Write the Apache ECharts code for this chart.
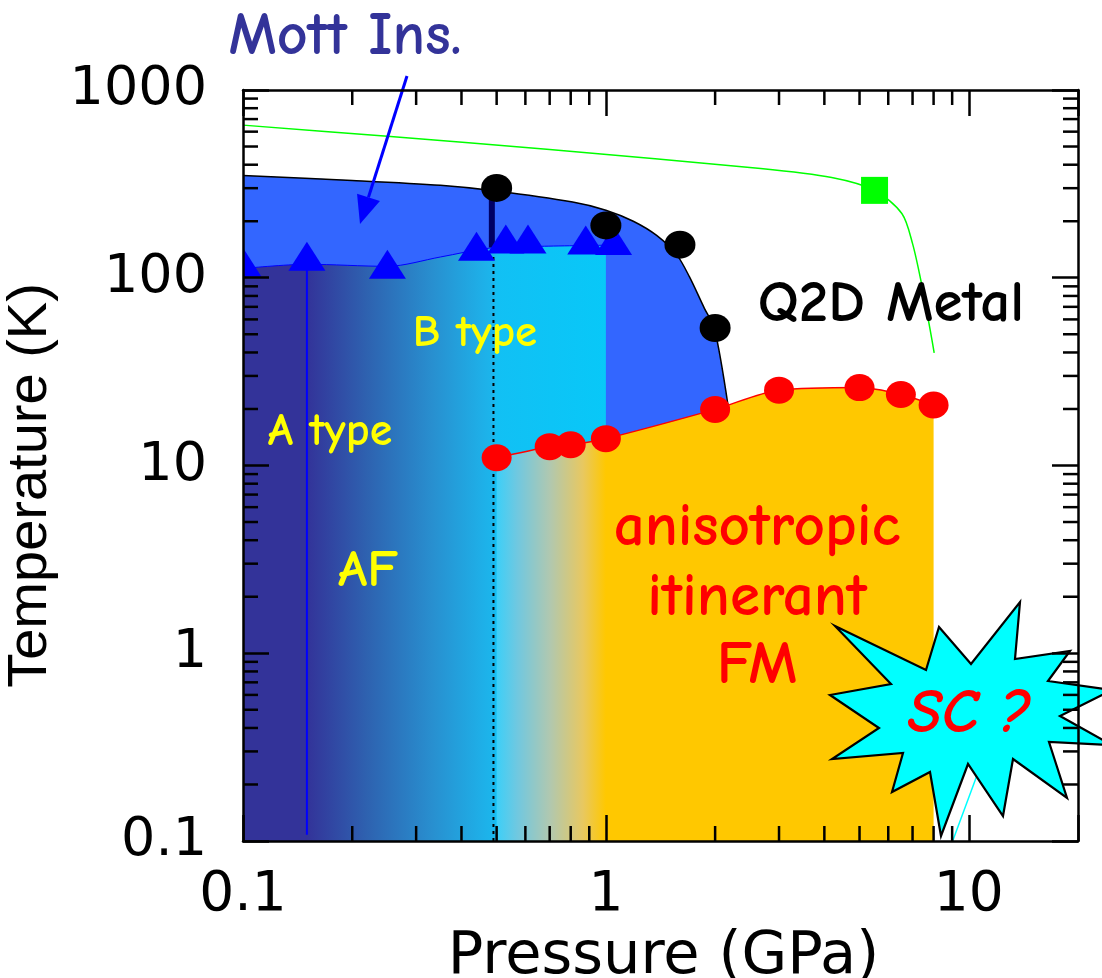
<!DOCTYPE html>
<html>
<head>
<meta charset="utf-8">
<script src="https://cdn.jsdelivr.net/npm/echarts@6/dist/echarts.min.js"></script>
<style>
  html, body { margin: 0; padding: 0; background: #ffffff; }
  #chart { width: 1102px; height: 978px; }
</style>
</head>
<body>
<div id="chart"></div>
<script>
// Axis bounds (pressure in GPa, temperature in K)
const P_MIN = 0.1, P_MAX = 20;
const T_MIN = 0.1, T_MAX = 1000;

// Minor tick values on both logarithmic axes
const pressureMinorTicks = [0.2, 0.3, 0.4, 0.5, 0.6, 0.7, 0.8, 0.9, 2, 3, 4, 5, 6, 7, 8, 9];
const temperatureMinorTicks = [0.2, 0.3, 0.4, 0.5, 0.6, 0.7, 0.8, 0.9,
  2, 3, 4, 5, 6, 7, 8, 9, 20, 30, 40, 50, 60, 70, 80, 90,
  200, 300, 400, 500, 600, 700, 800, 900];

// Upper boundary of the Mott insulating phase (black curve)
const mottBoundary = [[0.1, 350], [0.2, 330], [0.35, 311], [0.5, 290], [0.81, 253], [1.0, 229],
  [1.19, 200], [1.38, 168], [1.57, 132], [1.7, 101], [1.87, 68.5], [1.99, 54], [2.17, 21]];
// Upper edge of the antiferromagnetic region
const afBoundary = [[0.1, 112], [0.15, 118], [0.25, 115], [0.35, 129], [0.48, 144], [0.66, 147], [1.0, 149]];
// Neel temperatures (blue triangles)
const neelPoints = [[0.1, 121], [0.15, 130], [0.25, 118], [0.44, 147], [0.53, 161], [0.61, 161], [0.88, 159], [1.05, 158]];
// Mott transition temperatures (black dots)
const mottPoints = [[0.5, 301], [1.0, 190], [1.6, 150], [2.0, 54]];
// Curie temperatures of the ferromagnetic phase (red dots)
const curiePoints = [[0.5, 11.0], [0.7, 12.6], [0.8, 12.9], [1.0, 13.9], [2.0, 19.9],
  [3.0, 25.2], [5.0, 26.0], [6.5, 23.9], [8.0, 21.0]];
// Crossover line (green) and its square point
const crossoverLine = [[0.1, 650], [0.25, 567], [0.7, 482], [2.67, 382], [4.19, 342], [5.5, 292],
  [6.54, 220], [7.0, 152], [7.41, 93], [7.83, 52.6], [8.03, 39.8]];
const crossoverPoint = [[5.5, 292]];
// A-type / B-type border, error bar of the first Mott point, Neel drop line, SC line
const abBoundary = [[0.49, 0.1], [0.49, 145]];
const mottErrorBar = [[0.485, 145], [0.485, 290]];
const neelDropLine = [[0.15, 0.108], [0.15, 125]];
const scLine = [[9.03, 0.1], [10.5, 0.22], [12, 0.45]];

const chart = echarts.init(document.getElementById('chart'), null, { renderer: 'canvas' });

function logFrac(x, lo, hi) {
  return (Math.log10(x) - Math.log10(lo)) / (Math.log10(hi) - Math.log10(lo));
}

const afLo = afBoundary[0][0], afHi = afBoundary[afBoundary.length - 1][0];
const afGradient = new echarts.graphic.LinearGradient(0, 0, 1, 0, [
  { offset: 0, color: '#333399' },
  { offset: logFrac(0.15, afLo, afHi), color: '#333399' },
  { offset: logFrac(0.22, afLo, afHi), color: '#2e62b0' },
  { offset: logFrac(0.335, afLo, afHi), color: '#2890d0' },
  { offset: logFrac(0.46, afLo, afHi), color: '#1eb0e8' },
  { offset: logFrac(0.49, afLo, afHi), color: '#1bb6ec' },
  { offset: logFrac(0.5, afLo, afHi), color: '#12c0f4' },
  { offset: 1, color: '#08c8f8' }
]);

const fmLo = curiePoints[0][0], fmHi = curiePoints[curiePoints.length - 1][0];
const fmGradient = new echarts.graphic.LinearGradient(0, 0, 1, 0, [
  { offset: 0, color: '#3ccff8' },
  { offset: logFrac(0.57, fmLo, fmHi), color: '#70c8e0' },
  { offset: logFrac(0.7, fmLo, fmHi), color: '#b0c8b0' },
  { offset: logFrac(0.865, fmLo, fmHi), color: '#e8c860' },
  { offset: logFrac(1.0, fmLo, fmHi), color: '#ffc800' },
  { offset: 1, color: '#ffc800' }
]);

const AXIS_W = 2.5;
const MAJOR_LEN = 26, MINOR_LEN = 15;
const tickStyle = { stroke: '#000000', lineWidth: AXIS_W };

function powerLabel(v) {
  const e = Math.log10(v);
  const r = Math.round(e);
  if (Math.abs(e - r) > 1e-6) return '';
  return r < 0 ? v.toFixed(-r) : String(Math.round(v));
}

function axisCommon() {
  return {
    type: 'log',
    logBase: 10,
    z: 10,
    axisLine: { show: true, lineStyle: { color: '#000000', width: AXIS_W } },
    axisTick: { show: true, inside: true, length: MAJOR_LEN, lineStyle: { color: '#000000', width: AXIS_W } },
    minorTick: { show: false },
    splitLine: { show: false },
    minorSplitLine: { show: false }
  };
}

// minor ticks along bottom and top edges
function renderPressureTick(params, api) {
  const v = api.value(0);
  const b = api.coord([v, T_MIN]);
  const t = api.coord([v, T_MAX]);
  return {
    type: 'group',
    children: [
      { type: 'line', shape: { x1: b[0], y1: b[1], x2: b[0], y2: b[1] - MINOR_LEN }, style: tickStyle },
      { type: 'line', shape: { x1: t[0], y1: t[1], x2: t[0], y2: t[1] + MINOR_LEN }, style: tickStyle }
    ]
  };
}
// minor ticks along left and right edges
function renderTemperatureTick(params, api) {
  const v = api.value(1);
  const l = api.coord([P_MIN, v]);
  const r = api.coord([P_MAX, v]);
  return {
    type: 'group',
    children: [
      { type: 'line', shape: { x1: l[0], y1: l[1], x2: l[0] + MINOR_LEN, y2: l[1] }, style: tickStyle },
      { type: 'line', shape: { x1: r[0], y1: r[1], x2: r[0] - MINOR_LEN, y2: r[1] }, style: tickStyle }
    ]
  };
}
// filled triangle marker, clipped to the plot area
const TRI_W = 37, TRI_H = 29;
function renderTriangle(params, api) {
  const c = api.coord([api.value(0), api.value(1)]);
  return {
    type: 'polygon',
    shape: { points: [[c[0], c[1] - TRI_H / 2], [c[0] + TRI_W / 2, c[1] + TRI_H / 2], [c[0] - TRI_W / 2, c[1] + TRI_H / 2]] },
    style: { fill: '#0000ff' }
  };
}

// callout star behind the "SC ?" label
const starPoints = [[835, 626], [926, 670], [939, 627], [971, 664], [1020, 602], [1015, 659],
  [1070, 651], [1048, 681], [1112, 690], [1060, 716], [1112, 745], [1049, 742], [1067, 798],
  [1013, 759], [1003, 816], [968, 764], [941, 836], [930, 772], [892, 792], [903, 753],
  [832, 759], [879, 728], [830, 695], [891, 684]];

const comic = "'Comic Sans MS', 'Comic Neue', 'Noto Sans', sans-serif";

function label(text, x, y, size, color, style) {
  return {
    type: 'text', x: x, y: y, z: 9, silent: true,
    style: {
      text: text, fill: color, fontSize: size, fontFamily: comic,
      fontWeight: 'bold', fontStyle: style || 'normal',
      align: 'center', verticalAlign: 'middle'
    }
  };
}

// arrow from the "Mott Ins." label into the insulating region
const ax0 = 407, ay0 = 76, ax1 = 360, ay1 = 224;
const alen = Math.hypot(ax1 - ax0, ay1 - ay0);
const ux = (ax1 - ax0) / alen, uy = (ay1 - ay0) / alen;
const headL = 28, headW = 12;
const bx = ax1 - ux * headL, by = ay1 - uy * headL;

const option = {
  animation: false,
  backgroundColor: '#ffffff',
  grid: { left: 243, top: 90, right: 24, bottom: 137, outerBoundsMode: 'none', containLabel: false },
  xAxis: [
    Object.assign(axisCommon(), {
      min: P_MIN, max: P_MAX, position: 'bottom',
      axisLabel: { show: true, margin: 27, fontSize: 55, fontFamily: 'DejaVu Sans', color: '#000000', formatter: powerLabel },
      name: 'Pressure (GPa)', nameLocation: 'middle', nameGap: 79,
      nameTextStyle: { fontFamily: 'DejaVu Sans', fontSize: 59, color: '#000000', padding: [0, 0, 0, 6] }
    }),
    Object.assign(axisCommon(), {
      min: P_MIN, max: P_MAX, position: 'top',
      axisLabel: { show: false }
    })
  ],
  yAxis: [
    Object.assign(axisCommon(), {
      min: T_MIN, max: T_MAX, position: 'left',
      axisLabel: { show: true, margin: 36, fontSize: 54, fontFamily: 'DejaVu Sans', color: '#000000', formatter: powerLabel },
      name: 'Temperature (K)', nameLocation: 'middle', nameGap: 168,
      nameTextStyle: { fontFamily: 'Liberation Sans', fontSize: 56, color: '#000000', padding: [0, 40, 0, 0] }
    }),
    Object.assign(axisCommon(), {
      min: T_MIN, max: T_MAX, position: 'right',
      axisLabel: { show: false }
    })
  ],
  series: [
    {
      name: 'Mott insulator', type: 'line', data: mottBoundary, z: 1,
      smooth: 0.3, symbol: 'none', silent: true,
      lineStyle: { color: '#000000', width: 1.5 },
      areaStyle: { color: '#3366ff', opacity: 1, origin: 'start' }
    },
    {
      name: 'AF', type: 'line', data: afBoundary, z: 2,
      smooth: 0.3, symbol: 'none', silent: true,
      lineStyle: { color: '#0000ff', width: 1 },
      areaStyle: { color: afGradient, opacity: 1, origin: 'start' }
    },
    {
      name: 'FM', type: 'line', data: curiePoints, z: 3,
      smooth: 0.3, symbol: 'none', silent: true,
      lineStyle: { color: '#ff0000', width: 1.5 },
      areaStyle: { color: fmGradient, opacity: 1, origin: 'start' }
    },
    {
      type: 'line', data: neelDropLine, z: 4, symbol: 'none', silent: true,
      lineStyle: { color: '#0000ff', width: 2 }
    },
    {
      type: 'line', data: abBoundary, z: 4, symbol: 'none', silent: true,
      lineStyle: { color: '#000000', width: 2, type: [3, 4] }
    },
    {
      type: 'line', data: mottErrorBar, z: 4, symbol: 'none', silent: true,
      lineStyle: { color: '#000066', width: 6, cap: 'butt' }
    },
    {
      type: 'line', data: crossoverLine, z: 4, smooth: 0.3, symbol: 'none', silent: true,
      lineStyle: { color: '#00ff00', width: 1.5 }
    },
    {
      type: 'line', data: scLine, z: 4, symbol: 'none', silent: true,
      lineStyle: { color: '#00ffff', width: 1.5 }
    },
    {
      name: 'Neel', type: 'custom', coordinateSystem: 'cartesian2d', data: neelPoints, z: 5,
      clip: true, silent: true, renderItem: renderTriangle
    },
    {
      name: 'Mott transition', type: 'scatter', data: mottPoints, z: 6, silent: true,
      symbol: 'circle', symbolSize: [31, 28], itemStyle: { color: '#000000', opacity: 1 }
    },
    {
      name: 'Curie', type: 'scatter', data: curiePoints, z: 6, silent: true,
      symbol: 'circle', symbolSize: [30, 27], itemStyle: { color: '#ff0000', opacity: 1 }
    },
    {
      name: 'Crossover', type: 'scatter', data: crossoverPoint, z: 6, silent: true,
      symbol: 'rect', symbolSize: 27, itemStyle: { color: '#00ff00', opacity: 1 }
    },
    {
      type: 'custom', coordinateSystem: 'cartesian2d', z: 10, silent: true, clip: false,
      data: pressureMinorTicks.map(v => [v, T_MIN]), renderItem: renderPressureTick
    },
    {
      type: 'custom', coordinateSystem: 'cartesian2d', z: 10, silent: true, clip: false,
      data: temperatureMinorTicks.map(v => [P_MIN, v]), renderItem: renderTemperatureTick
    }
  ],
  graphic: {
    elements: [
      {
        type: 'polygon', z: 8, silent: true,
        shape: { points: starPoints },
        style: { fill: '#00ffff', stroke: '#000000', lineWidth: 2.2, lineJoin: 'miter' }
      },
      label('SC ?', 969, 714, 62, '#ff0000', 'italic'),
      label('Mott Ins.', 345, 37, 60, '#333399'),
      {
        type: 'line', z: 9, silent: true,
        shape: { x1: ax0, y1: ay0, x2: bx, y2: by },
        style: { stroke: '#0000ff', lineWidth: 3 }
      },
      {
        type: 'polygon', z: 9, silent: true,
        shape: { points: [[ax1, ay1], [bx + uy * headW, by - ux * headW], [bx - uy * headW, by + ux * headW]] },
        style: { fill: '#0000ff' }
      },
      label('B type', 475, 333, 45, '#ffff00'),
      label('A type', 330, 432, 46, '#ffff00'),
      label('AF', 368, 571, 53, '#ffff00'),
      label('Q2D Metal', 891, 304, 59, '#000000'),
      label('anisotropic', 757, 528, 61, '#ff0000'),
      label('itinerant', 757, 598, 61, '#ff0000'),
      label('FM', 757, 666, 61, '#ff0000')
    ]
  }
};

chart.setOption(option);
</script>
</body>
</html>
